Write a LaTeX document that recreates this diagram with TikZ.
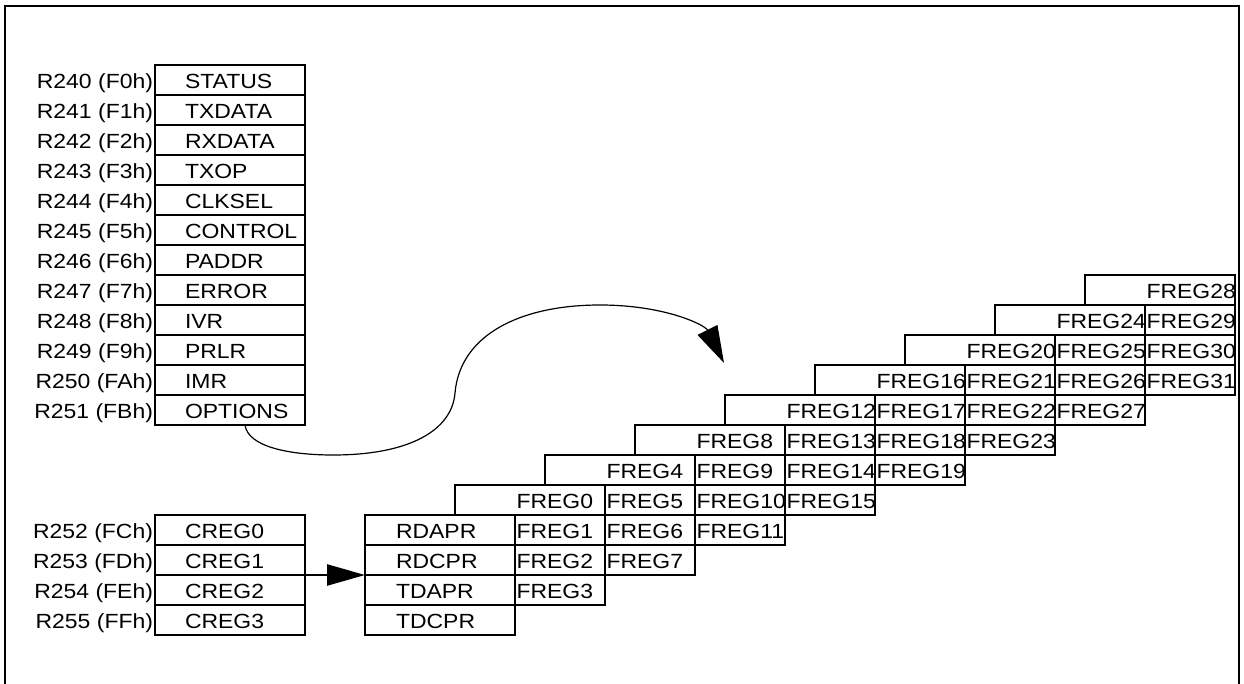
\documentclass[tikz,border=0pt]{standalone}
\usepackage{fontspec}
\setmainfont[FakeStretch=1.12]{Liberation Sans}
\usetikzlibrary{arrows.meta}
\newcommand{\cb}[3]{\makebox[#1][l]{\hspace*{#2}#3}}
\begin{document}
\begin{tikzpicture}[x=1pt,y=-1pt,
  every node/.style={font=\fontsize{20.5pt}{24pt}\selectfont},
  cell/.style={draw, line width=2.4pt, inner sep=0pt, outer sep=0pt, minimum height=30pt, text height=17pt, text depth=0pt, anchor=north west},
  lbl/.style={inner sep=0pt, outer sep=0pt, anchor=base east},
  conn/.style={line width=2.4pt, -{Triangle[length=38pt,width=21pt]}},
  curveconn/.style={line width=1.2pt, -{Triangle[length=37pt,width=22pt]}},
  frame/.style={line width=2.4pt}]
\useasboundingbox (0,0) rectangle (1244,684);
\draw[frame] (5,684) -- (5,6) -- (1239,6) -- (1239,684);
% upper register list
\foreach \name/\lab [count=\i from 0] in {STATUS/R240 (F0h), TXDATA/R241 (F1h), RXDATA/R242 (F2h), TXOP/R243 (F3h), CLKSEL/R244 (F4h), CONTROL/R245 (F5h), PADDR/R246 (F6h), ERROR/R247 (F7h), IVR/R248 (F8h), PRLR/R249 (F9h), IMR/R250 (FAh), OPTIONS/R251 (FBh)} {
  \node[cell] (r\i) at (155, 65+30*\i) {\cb{150pt}{30pt}{\name}};
  \node[lbl] (l\i) at (153, 88.5+30*\i) {\lab};
}
% CREG list
\foreach \name/\lab [count=\i from 0] in {CREG0/R252 (FCh), CREG1/R253 (FDh), CREG2/R254 (FEh), CREG3/R255 (FFh)} {
  \node[cell] (c\i) at (155, 515+30*\i) {\cb{150pt}{30pt}{\name}};
  \node[lbl] (cl\i) at (153, 538.5+30*\i) {\lab};
}
% pointer registers
\foreach \name [count=\i from 0] in {RDAPR, RDCPR, TDAPR, TDCPR} {
  \node[cell] (rd\i) at (365, 515+30*\i) {\cb{150pt}{31pt}{\name}};
}
% FREG staircase
\foreach \k in {0,...,7} {
  \pgfmathtruncatemacro\a{4*\k}
  \node[cell] (f\a) at (455+90*\k, 485-30*\k) {\cb{150pt}{61.5pt}{FREG\a}};
  \foreach \j in {1,2,3} {
    \pgfmathtruncatemacro\b{4*\k+\j}
    \node[cell] (f\b) at (515+90*\k, 485-30*\k+30*\j) {\cb{90pt}{1.5pt}{FREG\b}};
  }
}
% connectors
\draw[conn] (c1.south east) -- (rd1.south west);
\coordinate (ctip) at (724,363);
\draw[curveconn] ([xshift=15pt]r11.south) .. controls (248,447) and (290,455) .. (333,455)
  .. controls (410,455) and (452,430) .. (455,393)
  .. controls (460,335) and (520,305) .. (600,305)
  .. controls (665,305) and (705,325) .. (ctip);
\end{tikzpicture}
\end{document}
